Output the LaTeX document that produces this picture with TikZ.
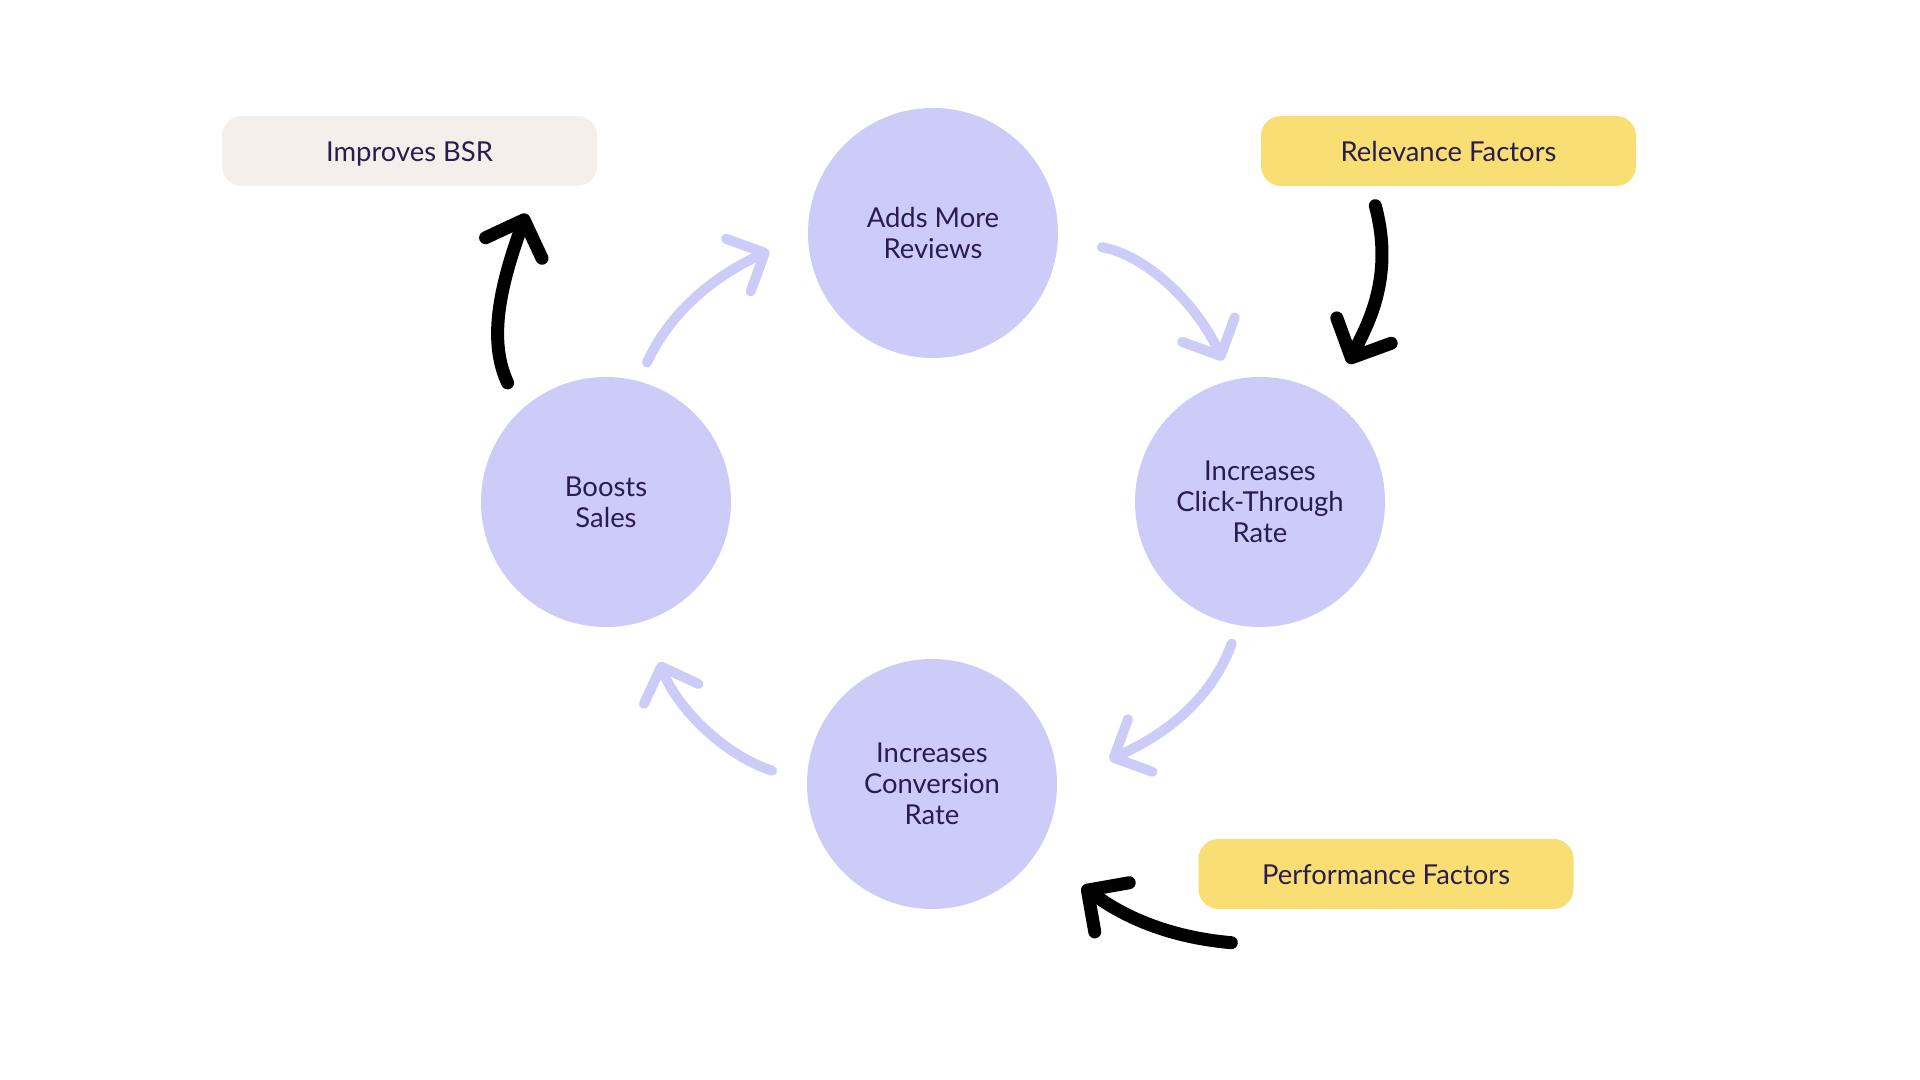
\documentclass[tikz,border=0pt]{standalone}
\usepackage{fontspec}
\setmainfont{Lato}
\usepackage{xcolor}
\usepackage{tikz}
\usetikzlibrary{arrows.meta, shapes.geometric}

\definecolor{lav}{HTML}{CDCBF8}
\definecolor{ink}{HTML}{2A1C4C}
\definecolor{sand}{HTML}{F4EFEA}
\definecolor{sun}{HTML}{F9DF73}
\newcommand{\labfont}{\fontsize{7.8pt}{8.8pt}\selectfont}

\begin{document}
\begin{tikzpicture}[
    circ/.style={circle, fill=lav, minimum size=2.5cm, align=center, text=ink, font=\labfont},
    tag/.style={rounded corners=0.2cm, minimum width=3.75cm, minimum height=0.7cm,
        text height=1.6ex, text depth=0.45ex, text=ink, font=\labfont},
    loop/.style={draw=lav, line width=0.1cm, line cap=round,
        -{Straight Barb[length=0.29cm, width=0.58cm, line cap=round, line join=round]}},
    push/.style={draw=black, line width=0.13cm, line cap=round,
        -{Straight Barb[length=0.3cm, width=0.6cm, line cap=round, line join=round]}}]
    % Nền và khung
    \fill[white] (0,0) rectangle (19.2,10.8);
    \useasboundingbox (0,0) rectangle (19.2,10.8);

    % Bốn vòng tròn của chu trình
    \node[circ] (rev) at (9.33,8.47) {Adds More\\Reviews};
    \node[circ] (ctr) at (12.60,5.78) {Increases\\Click-Through\\Rate};
    \node[circ] (conv) at (9.32,2.96) {Increases\\Conversion\\Rate};
    \node[circ] (sales) at (6.06,5.78) {Boosts\\Sales};

    % Các nhãn
    \node[tag, fill=sand] (bsr) at (4.095,9.29) {Improves BSR};
    \node[tag, fill=sun] (rel) at (14.485,9.29) {Relevance Factors};
    \node[tag, fill=sun] (perf) at (13.86,2.06) {Performance Factors};

    % Mũi tên của chu trình
    \draw[loop, shorten <=0.2cm, shorten >=0.42cm] (sales.75) to[out=65, in=205] (rev.180);
    \draw[loop, shorten <=0.44cm, shorten >=0.21cm] (rev.-3) to[out=-10, in=115] (ctr.103);
    \draw[loop, shorten <=0.19cm, shorten >=0.57cm] (ctr.-100) to[out=-110, in=25] (conv.0);
    \draw[loop, shorten <=0.36cm, shorten >=0.43cm] (conv.179) to[out=162, in=-70] (sales.-72);

    % Mũi tên đen
    \draw[push, shorten <=0.3cm] (sales.133) to[out=115, in=-110] ([yshift=-0.27cm]bsr.-17.6);
    \draw[push, shorten >=0.39cm] ([yshift=-0.19cm]rel.206.1) to[out=-75, in=65] (ctr.55);
    \draw[push, shorten >=0.56cm] ([yshift=-0.33cm]perf.193.4) to[out=175, in=-35] (conv.-34);
\end{tikzpicture}
\end{document}
